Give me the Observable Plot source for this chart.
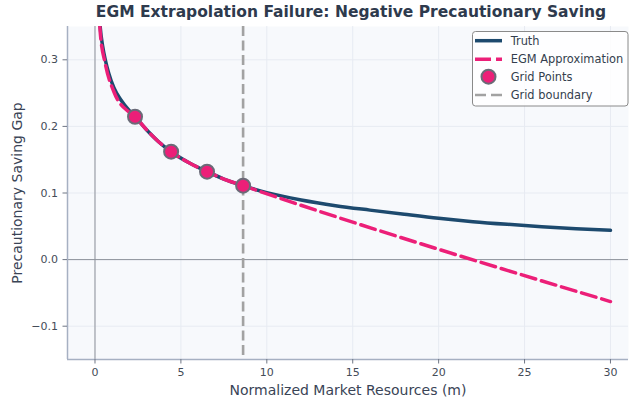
<!DOCTYPE html>
<html>
<head>
<meta charset="utf-8">
<script src="https://cdn.jsdelivr.net/npm/d3@7"></script>
<script src="https://cdn.jsdelivr.net/npm/@observablehq/plot@0.6"></script>
<style>
  html, body { margin: 0; padding: 0; background: #ffffff; }
  #wrap { position: relative; width: 629px; height: 400px; overflow: hidden; font-family: "DejaVu Sans", sans-serif; }
  #title { height: 26px; line-height: 25px; padding-left: 73px; text-align: center; font-weight: bold; font-size: 15.5px; color: #2e3a4d; white-space: nowrap; }
  #legend { position: absolute; left: 472px; top: 31px; }
</style>
</head>
<body>
<div id="wrap">
  <div id="title">EGM Extrapolation Failure: Negative Precautionary Saving</div>
  <div id="chart"></div>
  <svg id="legend" width="157" height="76"></svg>
</div>
<script>
// ---- data ----
const truthM = [0.2, 0.3, 0.45, 0.6, 0.8, 1.1, 1.5, 2.0, 2.33, 3.0, 3.7, 4.43, 5.5, 6.52, 7.5, 8.62, 10, 12, 14, 16, 18, 20, 22, 24, 26, 28, 30];
const truthGap = [0.39, 0.35, 0.32, 0.30, 0.28, 0.258, 0.24, 0.2235, 0.2145, 0.195, 0.177, 0.162, 0.145, 0.132, 0.121, 0.111, 0.1005, 0.0895, 0.081, 0.0743, 0.068, 0.062, 0.057, 0.053, 0.0495, 0.0465, 0.044];
const egmM = [0.2, 0.3, 0.6, 1.1, 2.0, 2.33, 3.0, 3.7, 4.43, 5.5, 6.52, 7.5, 8.62, 30];
const egmGap = [0.385, 0.343, 0.294, 0.252, 0.221, 0.2145, 0.195, 0.177, 0.162, 0.145, 0.132, 0.121, 0.111, -0.063];
const gridM = [2.33, 4.43, 6.52, 8.62];
const gridGap = [0.2145, 0.162, 0.132, 0.111];
const gridBoundary = [8.62];
const xTicks = [0, 5, 10, 15, 20, 25, 30];
const yTicks = [-0.1, 0.0, 0.1, 0.2, 0.3];
const xDomain = [-1.6, 31.05];
const yDomain = [-0.15, 0.35];
const seriesNames = ["Truth", "EGM Approximation", "Grid Points", "Grid boundary"];

const navy = "#1d4a6e";
const pink = "#ec1f78";
const gray = "#a2a2a2";
const spine = "#a6b0c2";

const truth = truthM.map((m, i) => ({m, v: truthGap[i]}));
const egm = egmM.map((m, i) => ({m, v: egmGap[i]}));
const grid = gridM.map((m, i) => ({m, v: gridGap[i]}));

const chart = Plot.plot({
  width: 629,
  height: 374,
  marginTop: 0,
  marginLeft: 67,
  marginRight: 1,
  marginBottom: 41,
  x: {domain: xDomain},
  y: {domain: yDomain},
  style: {fontFamily: "DejaVu Sans, sans-serif", background: "transparent", overflow: "visible"},
  marks: [
    Plot.frame({fill: "#f7f9fc", stroke: null}),
    Plot.gridX(xTicks, {stroke: "#e7ebf2", strokeOpacity: 1, strokeWidth: 1}),
    Plot.gridY(yTicks, {stroke: "#e7ebf2", strokeOpacity: 1, strokeWidth: 1}),
    Plot.ruleY([0], {stroke: "#8e929b", strokeWidth: 1}),
    Plot.ruleX([0], {stroke: "#8e929b", strokeWidth: 1}),
    Plot.ruleX(gridBoundary, {stroke: gray, strokeWidth: 2.6, strokeDasharray: "10,4.5"}),
    Plot.line(truth, {x: "m", y: "v", stroke: navy, strokeWidth: 3.5, curve: "monotone-x", clip: true}),
    Plot.line(egm, {x: "m", y: "v", stroke: pink, strokeWidth: 3.5, strokeDasharray: "15,6", curve: "monotone-x", clip: true}),
    Plot.dot(grid, {x: "m", y: "v", r: 7, fill: pink, stroke: "#6b6b78", strokeWidth: 2}),
    Plot.ruleX([xDomain[0]], {stroke: spine, strokeWidth: 1.5}),
    Plot.ruleY([yDomain[0]], {stroke: spine, strokeWidth: 1.5}),
    Plot.axisX({ticks: xTicks, tickSize: 4.5, tickPadding: 4, fontSize: 11, stroke: "#6f7684", fill: "#454c58", label: null}),
    Plot.axisY({ticks: yTicks, tickSize: 4.5, tickPadding: 5, fontSize: 11, stroke: "#6f7684", fill: "#454c58", tickFormat: d3.format(".1f"), label: null}),
    Plot.text(["Normalized Market Resources (m)"], {frameAnchor: "bottom", dy: 35, fontSize: 14, fill: "#3a4456"}),
    Plot.text(["Precautionary Saving Gap"], {frameAnchor: "left", dx: -50, rotate: -90, textAnchor: "middle", fontSize: 14, fill: "#3a4456"})
  ]
});
document.getElementById("chart").appendChild(chart);

// ---- legend ----
const lg = d3.select("#legend");
lg.append("rect").attr("x", 0.5).attr("y", 0.5).attr("width", 155.5).attr("height", 74.5)
  .attr("rx", 3).attr("fill", "rgba(255,255,255,0.85)").attr("stroke", "#8a8a8a").attr("stroke-width", 1);
const rowsY = [9.7, 28.3, 45.7, 64];
const sx0 = 3, sx1 = 30;
lg.append("line").attr("x1", sx0).attr("x2", sx1).attr("y1", rowsY[0]).attr("y2", rowsY[0]).attr("stroke", navy).attr("stroke-width", 3.5);
lg.append("line").attr("x1", sx0).attr("x2", sx1).attr("y1", rowsY[1]).attr("y2", rowsY[1]).attr("stroke", pink).attr("stroke-width", 3.5).attr("stroke-dasharray", "16,5");
lg.append("circle").attr("cx", (sx0 + sx1) / 2).attr("cy", rowsY[2]).attr("r", 7).attr("fill", pink).attr("stroke", "#6b6b78").attr("stroke-width", 2);
lg.append("line").attr("x1", sx0).attr("x2", sx1).attr("y1", rowsY[3]).attr("y2", rowsY[3]).attr("stroke", gray).attr("stroke-width", 2.6).attr("stroke-dasharray", "11,5");
seriesNames.forEach((name, i) => {
  lg.append("text").attr("x", 38.7).attr("y", rowsY[i]).attr("dy", "0.36em")
    .attr("font-family", "DejaVu Sans, sans-serif").attr("font-size", 11.4).attr("fill", "#343e4e").text(name);
});
</script>
</body>
</html>
